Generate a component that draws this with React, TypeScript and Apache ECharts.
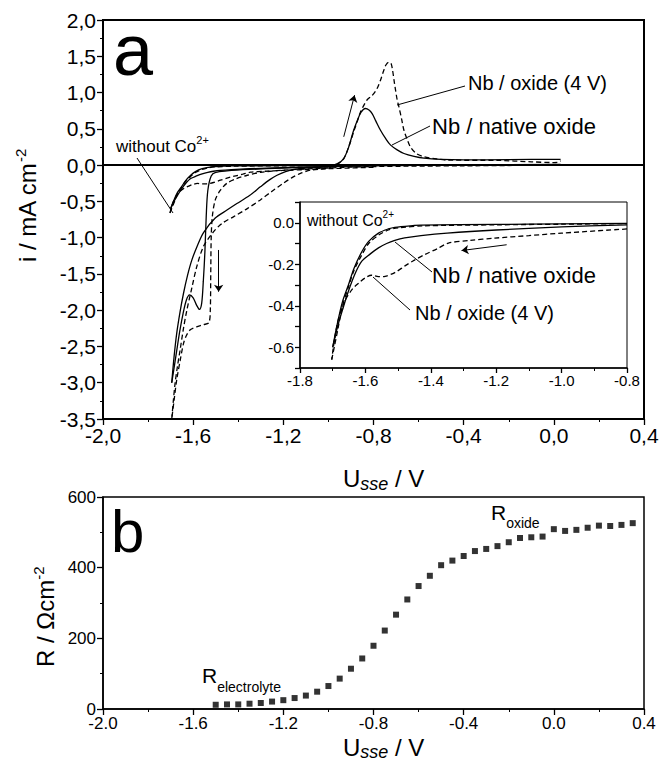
import React, { useEffect, useRef } from 'react';
import * as echarts from 'echarts';

type Pt = [number, number];

const W = 659;
const H = 765;
const FONT = "'Liberation Sans', Arial, Helvetica, sans-serif";

// ---------- axis ranges ----------
const aXMin = -2.0, aXMax = 0.4, aXStep = 0.4;
const aYMin = -3.5, aYMax = 2.0, aYStep = 0.5;
const iXMin = -1.8, iXMax = -0.8, iXStep = 0.2;
const iYMin = -0.7, iYMax = 0.1, iYStep = 0.1;
const bXMin = -2.0, bXMax = 0.4, bXStep = 0.4;
const bYMin = 0, bYMax = 600, bYStep = 200;

// ---------- panel a: without Co2+ (also shown in the inset) ----------
const blankNativeCathodic: Pt[] = [
  [-0.8, -0.01], [-1.0, -0.02], [-1.2, -0.035], [-1.35, -0.05], [-1.43, -0.062], [-1.48, -0.073],
  [-1.51, -0.085], [-1.535, -0.1], [-1.56, -0.121], [-1.585, -0.15], [-1.611, -0.185], [-1.63, -0.24],
  [-1.652, -0.33], [-1.67, -0.42], [-1.685, -0.5], [-1.7, -0.6],
];
const blankNativeAnodic: Pt[] = [
  [-1.7, -0.6], [-1.685, -0.48], [-1.67, -0.38], [-1.652, -0.3], [-1.635, -0.22], [-1.611, -0.14],
  [-1.59, -0.09], [-1.56, -0.05], [-1.53, -0.03], [-1.51, -0.022], [-1.45, -0.013], [-1.43, -0.011],
  [-1.2, -0.008], [-1.0, -0.005], [-0.8, -0.003],
];
const blankOxideCathodic: Pt[] = [
  [-0.8, -0.03], [-1.0, -0.05], [-1.1, -0.062], [-1.204, -0.074], [-1.28, -0.085], [-1.346, -0.098],
  [-1.38, -0.125], [-1.418, -0.153], [-1.45, -0.18], [-1.479, -0.208], [-1.51, -0.24], [-1.54, -0.258],
  [-1.56, -0.26], [-1.581, -0.253], [-1.6, -0.265], [-1.62, -0.29], [-1.64, -0.32], [-1.662, -0.374],
  [-1.68, -0.45], [-1.69, -0.52], [-1.698, -0.6], [-1.703, -0.66],
];
const blankOxideAnodic: Pt[] = [
  [-1.703, -0.66], [-1.685, -0.52], [-1.67, -0.4], [-1.652, -0.31], [-1.635, -0.23], [-1.611, -0.155],
  [-1.59, -0.1], [-1.56, -0.06], [-1.53, -0.035], [-1.5, -0.025], [-1.42, -0.015], [-1.2, -0.01],
  [-1.0, -0.007], [-0.8, -0.004],
];

// ---------- panel a: with Co2+ ----------
const nativeCoCathodic: Pt[] = [
  [0.03, 0.01], [-0.4, 0.0], [-0.8, -0.01], [-1.0, -0.02], [-1.2, -0.04], [-1.35, -0.06], [-1.45, -0.08],
  [-1.5, -0.1], [-1.52, -0.15], [-1.535, -0.35], [-1.542, -0.7], [-1.548, -1.2], [-1.555, -1.6],
  [-1.562, -1.9], [-1.572, -1.99], [-1.585, -1.93], [-1.6, -1.83], [-1.616, -1.79], [-1.63, -1.86],
  [-1.645, -2.05], [-1.66, -2.3], [-1.675, -2.6], [-1.695, -3.0],
];
const nativeCoReturn: Pt[] = [
  [-1.695, -3.0], [-1.685, -2.65], [-1.673, -2.32], [-1.658, -2.02], [-1.643, -1.77], [-1.625, -1.52],
  [-1.606, -1.31], [-1.58, -1.1], [-1.554, -0.93], [-1.502, -0.73], [-1.45, -0.62], [-1.406, -0.53],
  [-1.35, -0.42], [-1.302, -0.3], [-1.26, -0.2], [-1.228, -0.14], [-1.19, -0.09], [-1.154, -0.06],
  [-1.1, -0.04], [-1.0, -0.02], [-0.96, 0.02], [-0.932, 0.09], [-0.91, 0.25], [-0.888, 0.48],
  [-0.87, 0.63], [-0.855, 0.73], [-0.836, 0.78], [-0.82, 0.76], [-0.806, 0.71], [-0.79, 0.61],
  [-0.769, 0.48], [-0.745, 0.36], [-0.724, 0.275], [-0.695, 0.21], [-0.665, 0.16], [-0.62, 0.12],
  [-0.576, 0.095], [-0.5, 0.078], [-0.4, 0.072], [-0.2, 0.075], [0.0, 0.08], [0.03, 0.08],
];
const oxideCoCathodic: Pt[] = [
  [0.03, 0.0], [-0.4, -0.01], [-0.8, -0.02], [-1.0, -0.04], [-1.2, -0.07], [-1.3, -0.1], [-1.36, -0.14],
  [-1.41, -0.19], [-1.45, -0.25], [-1.48, -0.35], [-1.502, -0.48], [-1.515, -0.71], [-1.52, -1.0],
  [-1.522, -1.5], [-1.524, -2.0], [-1.53, -2.17], [-1.554, -2.2], [-1.585, -2.23], [-1.613, -2.27],
  [-1.63, -2.35], [-1.643, -2.46], [-1.658, -2.7], [-1.673, -2.96], [-1.685, -3.25], [-1.695, -3.5],
];
const oxideCoReturn: Pt[] = [
  [-1.695, -3.5], [-1.688, -3.25], [-1.68, -3.0], [-1.67, -2.78], [-1.658, -2.55], [-1.643, -2.25],
  [-1.628, -2.0], [-1.605, -1.68], [-1.584, -1.4], [-1.554, -1.12], [-1.51, -0.92], [-1.47, -0.8],
  [-1.42, -0.71], [-1.36, -0.6], [-1.302, -0.48], [-1.25, -0.36], [-1.2, -0.25], [-1.16, -0.17],
  [-1.124, -0.115], [-1.08, -0.07], [-1.0, -0.04], [-0.96, 0.01], [-0.932, 0.09], [-0.91, 0.25],
  [-0.888, 0.46], [-0.87, 0.62], [-0.858, 0.73], [-0.84, 0.84], [-0.828, 0.9], [-0.806, 0.96],
  [-0.785, 1.05], [-0.769, 1.17], [-0.755, 1.3], [-0.745, 1.38], [-0.732, 1.42], [-0.722, 1.4],
  [-0.715, 1.3], [-0.708, 1.15], [-0.702, 1.03], [-0.695, 0.9], [-0.687, 0.8], [-0.675, 0.63],
  [-0.665, 0.48], [-0.65, 0.35], [-0.636, 0.25], [-0.61, 0.16], [-0.576, 0.115], [-0.52, 0.085],
  [-0.472, 0.069], [-0.25, 0.065], [-0.1, 0.045], [0.0, 0.035], [0.02, 0.04], [0.03, 0.06],
];

// ---------- arrows (data coordinates) ----------
const arrowCathodic: Pt[] = [[-1.487, -1.17], [-1.487, -1.745]];
const arrowAnodic: Pt[] = [[-0.932, 0.39], [-0.884, 0.964]];
const arrowInset: Pt[] = [[-1.168, -0.106], [-1.306, -0.134]];

// ---------- panel b: resistance ----------
const rPotential: number[] = [
  -1.5, -1.45, -1.4, -1.35, -1.3, -1.25, -1.2, -1.15, -1.1, -1.05, -1.0, -0.95, -0.9, -0.85, -0.8, -0.75,
  -0.7, -0.65, -0.6, -0.55, -0.5, -0.45, -0.4, -0.35, -0.3, -0.25, -0.2, -0.15, -0.1, -0.05, 0.0, 0.05,
  0.1, 0.15, 0.2, 0.25, 0.3, 0.35,
];
const rValue: number[] = [
  12, 13, 13, 15, 17, 21, 25, 31, 38, 49, 65, 86, 114, 143, 179, 222,
  267, 310, 348, 377, 407, 420, 433, 447, 453, 461, 472, 484, 486, 488, 509, 504,
  507, 513, 519, 518, 521, 526,
];

// ---------- helpers ----------
let measureCtx: CanvasRenderingContext2D | null = null;
function textWidth(t: string, size: number, italic = false): number {
  if (!measureCtx) measureCtx = document.createElement('canvas').getContext('2d');
  if (!measureCtx) return t.length * size * 0.55;
  measureCtx.font = `${italic ? 'italic ' : ''}${size}px 'Liberation Sans', Arial, sans-serif`;
  return measureCtx.measureText(t).width;
}

type Part = { text: string; size: number; dy?: number; italic?: boolean };
function textRun(parts: Part[], x: number, baseline: number): any[] {
  const out: any[] = [];
  let cx = x;
  for (const p of parts) {
    out.push({
      type: 'text',
      x: cx,
      y: baseline + (p.dy || 0) - 0.3465 * p.size,
      silent: true,
      z: 100,
      style: {
        text: p.text,
        fontSize: p.size,
        fontFamily: FONT,
        fontStyle: p.italic ? 'italic' : 'normal',
        fill: '#000',
        align: 'left',
        textAlign: 'left',
        verticalAlign: 'middle',
        textVerticalAlign: 'middle',
      },
    });
    cx += textWidth(p.text, p.size, p.italic);
  }
  return out;
}
function rotatedRun(parts: Part[], baseX: number, startY: number) {
  return { type: 'group', x: baseX, y: startY, rotation: Math.PI / 2, children: textRun(parts, 0, 0) };
}
function leader(x1: number, y1: number, x2: number, y2: number) {
  return { type: 'line', silent: true, z: 100, shape: { x1, y1, x2, y2 }, style: { stroke: '#000', lineWidth: 1 } };
}

const commaFmt = (v: number) => (Math.round(v * 10) / 10).toFixed(1).replace('.', ',');
const dotFmt = (v: number) => (Math.round(v * 10) / 10).toFixed(1);
const insetYFmt = (v: number) => {
  const k = Math.round(v * 10);
  return k % 2 === 0 && k <= 0 && k >= -6 ? (k / 10).toFixed(1) : '';
};

function axis(opts: {
  grid: number; min: number; max: number; interval: number; fontSize: number; margin: number;
  fmt: (v: number) => string; width: number; tick: number; minor: boolean;
}) {
  return {
    type: 'value',
    gridIndex: opts.grid,
    min: opts.min,
    max: opts.max,
    interval: opts.interval,
    axisLine: { show: true, onZero: false, lineStyle: { color: '#000', width: opts.width } },
    axisTick: { show: true, inside: false, length: opts.tick, lineStyle: { color: '#000', width: 1.3 } },
    minorTick: { show: opts.minor, splitNumber: 2, length: Math.round(opts.tick / 2), lineStyle: { color: '#000', width: 1 } },
    splitLine: { show: false },
    minorSplitLine: { show: false },
    axisLabel: {
      show: true,
      fontSize: opts.fontSize,
      fontFamily: FONT,
      color: '#000',
      margin: opts.margin,
      formatter: opts.fmt,
      showMinLabel: true,
      showMaxLabel: true,
      hideOverlap: false,
    },
  };
}

function lineSeries(data: Pt[], dashed: boolean, idx: number, extra: any = {}) {
  return {
    type: 'line',
    data,
    xAxisIndex: idx,
    yAxisIndex: idx,
    showSymbol: false,
    symbol: 'none',
    smooth: 0.3,
    silent: true,
    clip: true,
    z: 3,
    lineStyle: { color: '#000', width: 1.3, type: dashed ? [5, 3] : 'solid' },
    ...extra,
  };
}

function arrowLine(pairs: Pt[][]) {
  return {
    silent: true,
    symbol: ['none', 'arrow'],
    symbolSize: 7,
    label: { show: false },
    lineStyle: { color: '#000', width: 1, type: 'solid' },
    data: pairs.map((p) => [{ coord: p[0] }, { coord: p[1] }]),
  };
}

function buildOption(): any {
  const graphics: any[] = [
    // panel labels
    ...textRun([{ text: 'a', size: 72 }], 113, 75),
    ...textRun([{ text: 'b', size: 60 }], 111, 552),
    // panel a annotations
    ...textRun([{ text: 'without Co', size: 17 }, { text: '2+', size: 11, dy: -8 }], 116, 152),
    leader(137, 158, 173, 213),
    ...textRun([{ text: 'Nb / oxide (4 V)', size: 20 }], 468, 90),
    leader(465, 86, 397, 105),
    ...textRun([{ text: 'Nb / native oxide', size: 22 }], 432, 134),
    leader(430, 126, 392, 145),
    // inset annotations
    ...textRun([{ text: 'without Co', size: 16 }, { text: '2+', size: 10, dy: -8 }], 307, 226),
    ...textRun([{ text: 'Nb / native oxide', size: 22 }], 432, 283),
    leader(395, 242, 432, 272),
    ...textRun([{ text: 'Nb / oxide (4 V)', size: 20 }], 415, 320),
    leader(373, 277, 410, 310),
    // panel b annotations
    ...textRun([{ text: 'R', size: 21 }, { text: 'electrolyte', size: 14, dy: 9 }], 202, 683),
    ...textRun([{ text: 'R', size: 21 }, { text: 'oxide', size: 14, dy: 8 }], 491, 520),
    // axis titles
    ...textRun([{ text: 'U', size: 24 }, { text: 'sse', size: 18, italic: true, dy: 3 }, { text: ' / V', size: 24 }], 343, 487),
    ...textRun([{ text: 'U', size: 24 }, { text: 'sse', size: 18, italic: true, dy: 2 }, { text: ' / V', size: 24 }], 343, 756),
    rotatedRun([{ text: 'i / mA cm', size: 24 }, { text: '-2', size: 15, dy: -10 }], 36, 262),
    rotatedRun([{ text: 'R / Ωcm', size: 24 }, { text: '-2', size: 15, dy: -10 }], 54, 667),
  ];

  return {
    animation: false,
    backgroundColor: '#fff',
    grid: [
      { left: 103, top: 20, width: 541, height: 399, show: true, borderColor: '#000', borderWidth: 2, backgroundColor: 'transparent', outerBoundsMode: 'none' },
      { left: 103, top: 497, width: 541, height: 212, show: true, borderColor: '#000', borderWidth: 1.5, backgroundColor: 'transparent', outerBoundsMode: 'none' },
      { left: 300, top: 202, width: 327, height: 166, show: true, borderColor: '#000', borderWidth: 1, backgroundColor: '#fff', outerBoundsMode: 'none', z: 5 },
    ],
    xAxis: [
      axis({ grid: 0, min: aXMin, max: aXMax, interval: aXStep, fontSize: 21, margin: 6, fmt: commaFmt, width: 2, tick: 6, minor: true }),
      axis({ grid: 1, min: bXMin, max: bXMax, interval: bXStep, fontSize: 17, margin: 6, fmt: dotFmt, width: 1.5, tick: 6, minor: true }),
      { ...axis({ grid: 2, min: iXMin, max: iXMax, interval: iXStep, fontSize: 15, margin: 5, fmt: dotFmt, width: 1.5, tick: 5, minor: true }), z: 6 },
    ],
    yAxis: [
      axis({ grid: 0, min: aYMin, max: aYMax, interval: aYStep, fontSize: 21, margin: 7, fmt: commaFmt, width: 2, tick: 6, minor: true }),
      axis({ grid: 1, min: bYMin, max: bYMax, interval: bYStep, fontSize: 17, margin: 7, fmt: (v: number) => String(Math.round(v)), width: 1.5, tick: 6, minor: true }),
      { ...axis({ grid: 2, min: iYMin, max: iYMax, interval: iYStep, fontSize: 15, margin: 6, fmt: insetYFmt, width: 1.5, tick: 5, minor: false }), z: 6 },
    ],
    series: [
      // panel a
      lineSeries(blankNativeCathodic, false, 0),
      lineSeries(blankNativeAnodic, false, 0),
      lineSeries(blankOxideCathodic, true, 0),
      lineSeries(blankOxideAnodic, true, 0),
      lineSeries(nativeCoCathodic, false, 0, {
        markLine: {
          silent: true,
          symbol: ['none', 'none'],
          label: { show: false },
          lineStyle: { color: '#000', width: 2, type: 'solid' },
          data: [{ yAxis: 0 }],
        },
      }),
      lineSeries(nativeCoReturn, false, 0),
      lineSeries(oxideCoCathodic, true, 0, { markLine: arrowLine([arrowCathodic, arrowAnodic]) }),
      lineSeries(oxideCoReturn, true, 0),
      // inset
      lineSeries(blankNativeCathodic, false, 2, { z: 8 }),
      lineSeries(blankNativeAnodic, false, 2, { z: 8 }),
      lineSeries(blankOxideCathodic, true, 2, { z: 8, markLine: { ...arrowLine([arrowInset]), z: 8 } }),
      lineSeries(blankOxideAnodic, true, 2, { z: 8 }),
      // panel b
      {
        type: 'scatter',
        xAxisIndex: 1,
        yAxisIndex: 1,
        silent: true,
        symbol: 'rect',
        symbolSize: 6,
        itemStyle: { color: '#000' },
        data: rPotential.map((x, i) => [x, rValue[i]]),
      },
    ],
    graphic: { elements: graphics },
  };
}

export default function App() {
  const ref = useRef<HTMLDivElement>(null);
  useEffect(() => {
    if (!ref.current) return;
    const chart = echarts.init(ref.current, null, { renderer: 'svg', width: W, height: H });
    chart.setOption(buildOption());
    return () => chart.dispose();
  }, []);
  return (
    <div
      ref={ref}
      style={{ position: 'absolute', left: 0, top: 0, width: W, height: H, background: '#fff' }}
    />
  );
}
